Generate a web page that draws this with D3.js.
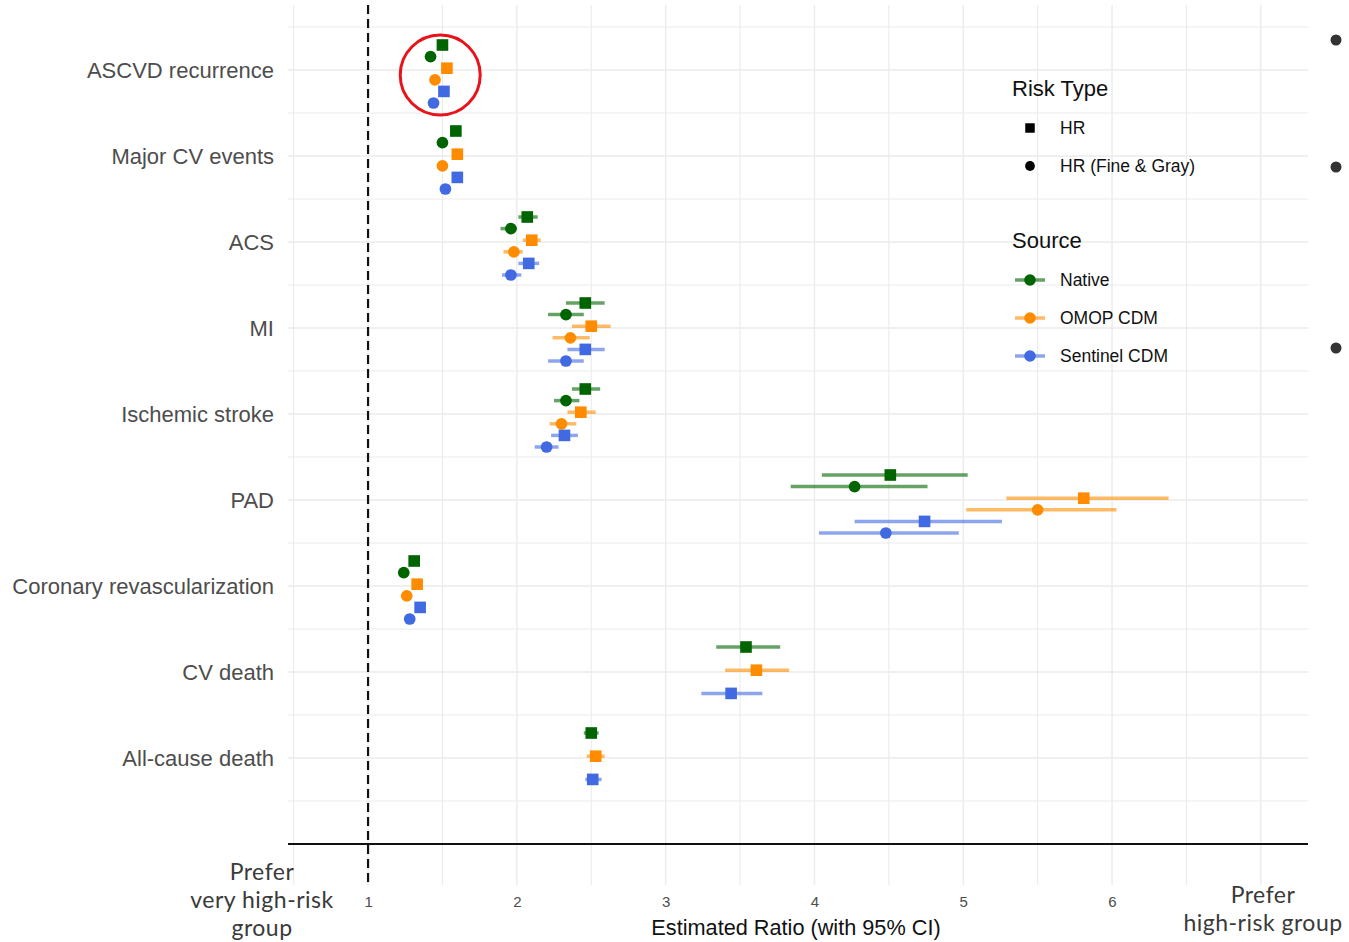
<!DOCTYPE html>
<html>
<head>
<meta charset="utf-8">
<script src="https://cdn.jsdelivr.net/npm/d3@7"></script>
<style>
  body { margin: 0; background: #fff; }
  svg { display: block; font-family: "Liberation Sans", Arial, sans-serif; }
</style>
</head>
<body>
<svg id="chart" width="1349" height="942"></svg>
<script>
'use strict';

// outcomes, top to bottom
const categories = ['ASCVD recurrence', 'Major CV events', 'ACS', 'MI', 'Ischemic stroke', 'PAD',
  'Coronary revascularization', 'CV death', 'All-cause death'];
const sources = ['Native', 'OMOP CDM', 'Sentinel CDM'];
const riskTypes = ['HR', 'HR (Fine & Gray)'];
const xTicks = [1, 2, 3, 4, 5, 6];

// [estimate, lower, upper] per outcome; null = not estimated
const hrNative = [[1.50, 1.48, 1.52], [1.59, 1.57, 1.61], [2.07, 2.01, 2.14], [2.46, 2.33, 2.59], [2.46, 2.37, 2.56],
  [4.51, 4.05, 5.03], [1.31, 1.29, 1.33], [3.54, 3.34, 3.77], [2.50, 2.45, 2.55]];
const fgNative = [[1.42, 1.40, 1.44], [1.50, 1.48, 1.52], [1.96, 1.89, 2.00], [2.33, 2.21, 2.45], [2.33, 2.25, 2.42],
  [4.27, 3.84, 4.76], [1.24, 1.22, 1.26], null, null];
const hrOmop = [[1.53, 1.51, 1.55], [1.60, 1.58, 1.62], [2.10, 2.04, 2.16], [2.50, 2.37, 2.63], [2.43, 2.34, 2.53],
  [5.81, 5.29, 6.38], [1.33, 1.31, 1.35], [3.61, 3.40, 3.83], [2.53, 2.47, 2.59]];
const fgOmop = [[1.45, 1.43, 1.47], [1.50, 1.48, 1.52], [1.98, 1.91, 2.04], [2.36, 2.24, 2.49], [2.30, 2.22, 2.40],
  [5.50, 5.02, 6.03], [1.26, 1.24, 1.28], null, null];
const hrSentinel = [[1.51, 1.49, 1.53], [1.60, 1.58, 1.62], [2.08, 2.01, 2.15], [2.46, 2.34, 2.59], [2.32, 2.23, 2.41],
  [4.74, 4.27, 5.26], [1.35, 1.33, 1.37], [3.44, 3.24, 3.65], [2.51, 2.46, 2.57]];
const fgSentinel = [[1.44, 1.42, 1.46], [1.52, 1.50, 1.54], [1.96, 1.90, 2.03], [2.33, 2.21, 2.45], [2.20, 2.12, 2.28],
  [4.48, 4.03, 4.97], [1.28, 1.26, 1.30], null, null];

const colors = { 'Native': '#006400', 'OMOP CDM': '#ff8c00', 'Sentinel CDM': '#4169e1' };

const table = [[hrNative, fgNative], [hrOmop, fgOmop], [hrSentinel, fgSentinel]];
const rows = [];
categories.forEach(function(c, i) {
  sources.forEach(function(s, si) {
    riskTypes.forEach(function(t, ti) {
      const v = table[si][ti][i];
      if (v) rows.push({ cat: c, idx: i, source: s, type: t, sub: si * 2 + ti, est: v[0], lo: v[1], hi: v[2] });
    });
  });
});

const svg = d3.select('#chart');
const pLeft = 288, pRight = 1308, pTop = 5, pBottom = 885;

const x = d3.scaleLinear().domain([0.462, 7.317]).range([pLeft, pRight]);
const yIdx = d3.scaleLinear().domain([-0.5, 9]).range([27, 844]);
const yCat = d3.scalePoint().domain(categories).range([yIdx(0), yIdx(categories.length - 1)]);
const ySub = d3.scalePoint().domain(d3.range(6)).range([-25, 33]);

// grid
const grid = svg.append('g');
grid.selectAll('line.v').data(d3.range(0.5, 7.01, 0.5)).enter().append('line')
  .attr('x1', function(d){ return x(d); }).attr('x2', function(d){ return x(d); })
  .attr('y1', pTop).attr('y2', pBottom)
  .attr('stroke', '#ebebeb').attr('stroke-width', function(d){ return d % 1 === 0 ? 1.4 : 1.1; });
grid.selectAll('line.h').data(d3.range(-0.5, 8.51, 0.5)).enter().append('line')
  .attr('x1', pLeft).attr('x2', pRight)
  .attr('y1', function(d){ return yIdx(d); }).attr('y2', function(d){ return yIdx(d); })
  .attr('stroke', '#ebebeb').attr('stroke-width', function(d){ return d % 1 === 0 ? 1.4 : 1.1; });

// baseline and reference
svg.append('line').attr('x1', pLeft).attr('x2', pRight).attr('y1', yIdx(9)).attr('y2', yIdx(9))
  .attr('stroke', '#111').attr('stroke-width', 2.2);
svg.append('line').attr('x1', x(1)).attr('x2', x(1)).attr('y1', pTop).attr('y2', pBottom)
  .attr('stroke', '#111').attr('stroke-width', 2.2).attr('stroke-dasharray', '9,5');

// axes
const xAxis = svg.append('g').attr('transform', 'translate(0,' + pBottom + ')')
  .call(d3.axisBottom(x).tickValues(xTicks).tickFormat(d3.format('d')).tickSize(0).tickPadding(11));
xAxis.select('.domain').remove();
xAxis.selectAll('text').attr('font-size', 15).attr('fill', '#4d4d4d').attr('font-family', 'Liberation Sans, Arial');

const yAxis = svg.append('g').attr('transform', 'translate(' + pLeft + ',0)')
  .call(d3.axisLeft(yCat).tickSize(0).tickPadding(14));
yAxis.select('.domain').remove();
yAxis.selectAll('text').attr('font-size', 22).attr('fill', '#4d4d4d').attr('font-family', 'Liberation Sans, Arial');

svg.append('text').attr('x', 796).attr('y', 935).attr('text-anchor', 'middle')
  .attr('font-size', 21.7).attr('fill', '#111').text('Estimated Ratio (with 95% CI)');

// error bars and points
function yPos(d) { return yCat(d.cat) + ySub(d.sub); }
svg.append('g').selectAll('line').data(rows).enter().append('line')
  .attr('x1', function(d){ return x(d.lo); }).attr('x2', function(d){ return x(d.hi); })
  .attr('y1', yPos).attr('y2', yPos)
  .attr('stroke', function(d){ return colors[d.source]; }).attr('stroke-width', 3.5).attr('stroke-opacity', 0.6);

const sym = { 'HR': d3.symbolSquare, 'HR (Fine & Gray)': d3.symbolCircle };
const symSize = { 'HR': 135, 'HR (Fine & Gray)': 108 };
svg.append('g').selectAll('path').data(rows).enter().append('path')
  .attr('transform', function(d){ return 'translate(' + x(d.est) + ',' + yPos(d) + ')'; })
  .attr('d', function(d){ return d3.symbol().type(sym[d.type]).size(symSize[d.type])(); })
  .attr('fill', function(d){ return colors[d.source]; });

// legend
const lg = svg.append('g').attr('font-family', 'Liberation Sans, Arial');
lg.append('text').attr('x', 1012).attr('y', 96).attr('font-size', 22).attr('fill', '#111').text('Risk Type');
riskTypes.forEach(function(t, i) {
  const yy = 128 + i * 38;
  lg.append('path').attr('transform', 'translate(1030,' + yy + ')')
    .attr('d', d3.symbol().type(sym[t]).size(i === 0 ? 90 : 75)()).attr('fill', '#000');
  lg.append('text').attr('x', 1060).attr('y', yy + 6).attr('font-size', 17.5).attr('fill', '#111').text(t);
});
lg.append('text').attr('x', 1012).attr('y', 248).attr('font-size', 22).attr('fill', '#111').text('Source');
sources.forEach(function(s, i) {
  const yy = 280 + i * 38;
  lg.append('line').attr('x1', 1015).attr('x2', 1045).attr('y1', yy).attr('y2', yy)
    .attr('stroke', colors[s]).attr('stroke-width', 3.5).attr('stroke-opacity', 0.6);
  lg.append('circle').attr('cx', 1030).attr('cy', yy).attr('r', 5.8).attr('fill', colors[s]);
  lg.append('text').attr('x', 1060).attr('y', yy + 6).attr('font-size', 17.5).attr('fill', '#111').text(s);
});

// highlight
svg.append('circle').attr('cx', x(1.485)).attr('cy', yCat(categories[0]) + 5).attr('r', 40)
  .attr('fill', 'none').attr('stroke', '#e8141b').attr('stroke-width', 3);

// direction annotations
const ann = svg.append('g').attr('font-family', 'Lato, sans-serif').attr('font-size', 23)
  .attr('letter-spacing', 0.5).attr('fill', '#3a3a3a').attr('text-anchor', 'middle');
function block(lines, cx, y0) {
  lines.forEach(function(s, i) {
    ann.append('text').attr('x', cx).attr('y', y0 + i * 28).text(s);
  });
}
block(['Prefer', 'very high-risk', 'group'], 262, 880);
block(['Prefer', 'high-risk group'], 1263, 903);

// bullet dots at right edge
svg.append('g').selectAll('circle').data([40, 167, 348]).enter().append('circle')
  .attr('cx', 1336).attr('cy', function(d){ return d; }).attr('r', 5.5).attr('fill', '#333');
</script>
</body>
</html>
